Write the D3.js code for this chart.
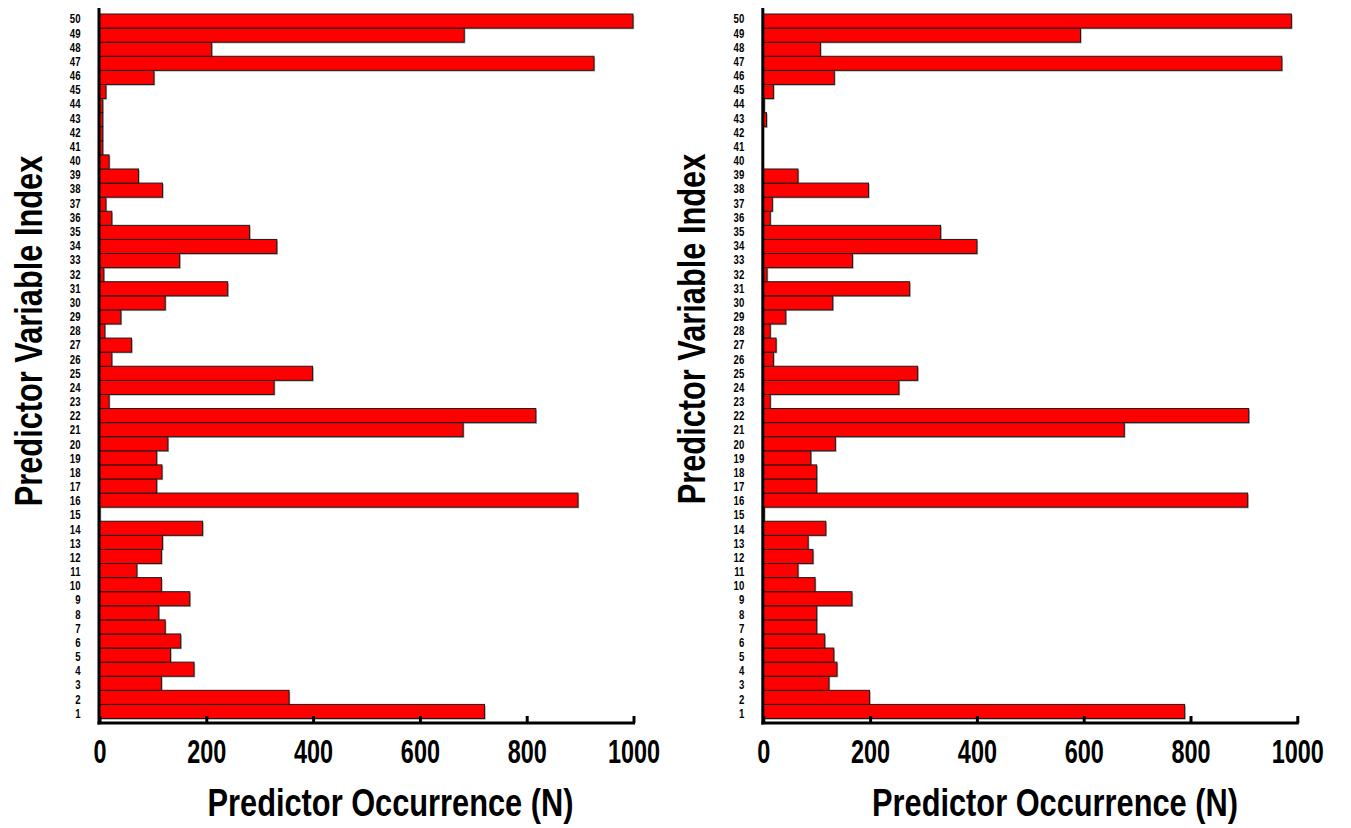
<!DOCTYPE html>
<html>
<head>
<meta charset="utf-8">
<script src="https://cdn.jsdelivr.net/npm/d3@7"></script>
<style>
  html, body { margin: 0; padding: 0; background: #fff; }
  svg { display: block; }
  text { font-family: "Liberation Sans", Arial, sans-serif; font-weight: bold; fill: #000; }
</style>
</head>
<body>
<svg id="chart" width="1351" height="828"></svg>
<script>
// Predictor indices 1..50
const predictorIndex = d3.range(1, 51);

// Occurrence counts per predictor, run A (left panel)
const occurrenceA = [
  721, 355, 116, 177, 133, 152, 123, 111, 169, 116,
   70, 116, 118, 193,   1, 896, 107, 117, 107, 128,
  681, 817,  18, 327, 399,  23,  60,  10,  40, 123,
  240,   8, 150, 332, 281,  23,  12, 118,  73,  18,
    6,   6,   6,   6,  12, 102, 926, 210, 683, 999
];

// Occurrence counts per predictor, run B (right panel)
const occurrenceB = [
  789, 199, 123, 138, 132, 115, 100, 100, 166,  97,
   65,  93,  84, 117,   2, 907, 100, 100,  89, 135,
  676, 909,  13, 254, 289,  19,  24,  13,  42, 130,
  274,   7, 167, 400, 332,  13,  17, 197,  65,   0,
    0,   0,   6,   2,  19, 133, 971, 107, 594, 989
];

const xTickValues = [0, 200, 400, 600, 800, 1000];
const xTitle = "Predictor Occurrence (N)";
const yTitle = "Predictor Variable Index";

const svg = d3.select("#chart");

function drawPanel(values, o) {
  const g = svg.append("g");
  const data = predictorIndex.map((idx, i) => ({ idx, n: values[i] }));

  const x = d3.scaleLinear().domain([0, 1000]).range([o.x0, o.x0 + 534]);
  const y = d3.scaleBand()
    .domain(predictorIndex.slice().reverse())
    .range([14, 718.5])
    .padding(0);
  const yLab = d3.scalePoint()
    .domain(predictorIndex.slice().reverse())
    .range([18.3, 712.5]);

  // soft shadow under each bar
  g.append("g").selectAll("rect").data(data.filter(d => d.n > 0)).join("rect")
    .attr("x", x(0) + 1.2)
    .attr("y", d => y(d.idx) + 1.2)
    .attr("width", d => x(d.n) - x(0))
    .attr("height", y.bandwidth())
    .attr("fill", "#a8a8a8");

  g.append("g").selectAll("rect").data(data.filter(d => d.n > 0)).join("rect")
    .attr("x", x(0))
    .attr("y", d => y(d.idx))
    .attr("width", d => x(d.n) - x(0))
    .attr("height", y.bandwidth())
    .attr("fill", "#ff0000")
    .attr("stroke", "#1a1a1a")
    .attr("stroke-width", 1);

  // y axis: thick line, index labels
  g.append("line")
    .attr("x1", x(0) - 0.5).attr("x2", x(0) - 0.5)
    .attr("y1", 8).attr("y2", 724.5)
    .attr("stroke", "#000").attr("stroke-width", 3);

  const yAx = g.append("g")
    .attr("transform", `translate(${x(0)},0)`)
    .call(d3.axisLeft(yLab).tickSize(0));
  yAx.select(".domain").remove();
  yAx.selectAll("text")
    .attr("x", 0).attr("dy", "0.36em")
    .attr("transform", "translate(-19,0) scale(0.74,1)")
    .style("font-size", "13px")
    .style("font-family", "'Liberation Sans', Arial, sans-serif")
    .style("font-weight", "bold")
    .attr("fill", "#111");

  // x axis: thick line with inward ticks
  const xAx = g.append("g")
    .attr("transform", "translate(0,723)")
    .call(d3.axisBottom(x).tickValues(xTickValues).tickFormat(d3.format("d"))
      .tickSize(-7).tickSizeOuter(0));
  xAx.select(".domain").attr("stroke", "#000").attr("stroke-width", 3)
    .attr("d", `M${x(0) - 2},0H${x(1000) + 1.5}`);
  xAx.selectAll(".tick line").attr("stroke", "#000").attr("stroke-width", 3);
  xAx.selectAll(".tick text")
    .attr("y", 40).attr("dy", 0)
    .attr("transform", "scale(0.69,1)")
    .style("font-size", "34px")
    .style("font-family", "'Liberation Sans', Arial, sans-serif")
    .style("font-weight", "bold")
    .attr("fill", "#000");

  // titles
  g.append("text")
    .attr("transform", `translate(${o.xTitleX},816) scale(0.81,1)`)
    .attr("text-anchor", "middle")
    .style("font-size", "38px")
    .text(xTitle);

  g.append("text")
    .attr("transform", `translate(${o.yTitleX},${o.yTitleY}) rotate(-90) scale(0.81,1)`)
    .attr("text-anchor", "middle")
    .style("font-size", "38px")
    .text(yTitle);
}

drawPanel(occurrenceA, { x0: 99.5, xTitleX: 390.5, yTitleX: 42, yTitleY: 331 });
drawPanel(occurrenceB, { x0: 763.3, xTitleX: 1055, yTitleX: 705, yTitleY: 329 });
</script>
</body>
</html>
